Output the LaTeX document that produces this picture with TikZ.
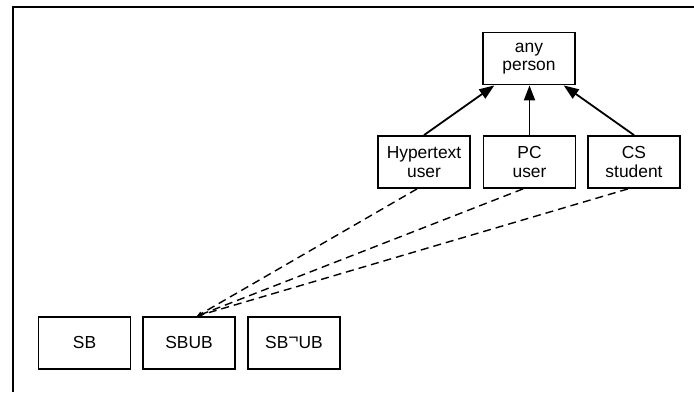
\documentclass[tikz,border=0pt]{standalone}
\usepackage{fontspec}
\setmainfont{Liberation Sans}
\usetikzlibrary{arrows.meta,calc}
\begin{document}
\begin{tikzpicture}[x=1pt,y=-1pt,
  box/.style={draw,line width=1.8pt,minimum width=92pt,minimum height=52pt,inner sep=0pt,align=center,
    font=\fontsize{17.4}{18.5}\selectfont},
  isa/.style={line width=1.8pt,-{Triangle[length=15pt,width=11pt]}},
  inst/.style={line width=1.4pt,dash pattern=on 8pt off 5pt,-{Triangle[length=5pt,width=4pt]}},
  frame/.style={line width=2.4pt}]
\useasboundingbox (0,0) rectangle (694,392);
\coordinate (ftop) at (694,6.8);
\coordinate (fcorner) at (13,6.8);
\coordinate (fbot) at (13,392);
\draw[frame] (ftop) -- (fcorner) -- (fbot);
\node[box] (any) at (529,58.5) {any\\person};
\node[box] (ht) at (424,162) {Hypertext\\user};
\node[box] (pc) at (529.5,162) {PC\\user};
\node[box] (cs) at (634,162) {CS\\student};
\node[box] (sb) at (84.5,343) {SB};
\node[box] (sbub) at (189,343) {SBUB};
\node[box] (sbnub) at (294,343) {SB\raisebox{0.33em}{¬}UB};
\draw[isa] (ht.north) -- ($(any.south west)!0.13!(any.south east)$);
\draw[isa] (pc.north) -- (pc.north |- any.south);
\draw[isa] (cs.north) -- ($(any.south west)!0.87!(any.south east)$);
\coordinate (tgt) at ($(sbub.north)+(8,0)$);
\draw[inst] ($(ht.south)+(-7,0)$) -- (tgt);
\draw[inst] ($(pc.south)+(-6.5,0)$) -- (tgt);
\draw[inst] ($(cs.south)+(-6,0)$) -- (tgt);
\end{tikzpicture}
\end{document}
